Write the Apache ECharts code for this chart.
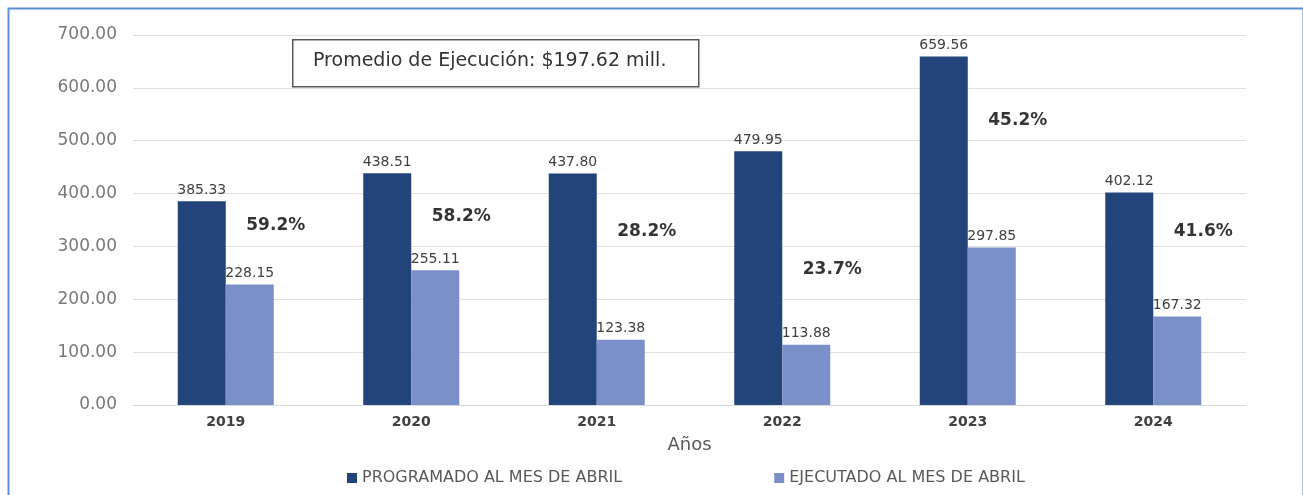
<!DOCTYPE html>
<html>
<head>
<meta charset="utf-8">
<script src="https://cdn.jsdelivr.net/npm/echarts@6/dist/echarts.min.js"></script>
<style>
  html, body { margin: 0; padding: 0; background: #fff; }
  #chart { width: 1303px; height: 495px; }
</style>
</head>
<body>
<div id="chart"></div>
<script>
// datos
const years = ['2019', '2020', '2021', '2022', '2023', '2024']
const programado = [385.33, 438.51, 437.80, 479.95, 659.56, 402.12]
const ejecutado = [228.15, 255.11, 123.38, 113.88, 297.85, 167.32]
const porcentajes = ['59.2%', '58.2%', '28.2%', '23.7%', '45.2%', '41.6%']
// altura (en valores del eje) donde va cada porcentaje
const pctAltura = [339, 356, 329, 257, 539, 329]
const yTicks = [0, 100, 200, 300, 400, 500, 600, 700]
const promedio = 'Promedio de Ejecución: $197.62 mill.'

;(function () {
  let myChart = echarts.init(document.getElementById('chart'))
  const labelFont = '"DejaVu Sans", sans-serif'
  let options = {
    animation: false,
    color: ['#22447a', '#7b8fc9'],
    grid: {
      left: 133,
      right: 57,
      top: 35,
      bottom: 90,
    },
    legend: {
      left: 342,
      top: 465,
      itemWidth: 10,
      itemHeight: 10,
      itemGap: 152,
      icon: 'rect',
      textStyle: {
        color: '#595959',
        fontSize: 16,
        fontFamily: labelFont,
      },
      data: ['PROGRAMADO AL MES DE ABRIL', 'EJECUTADO AL MES DE ABRIL'],
    },
    xAxis: {
      type: 'category',
      data: years,
      name: 'Años',
      nameLocation: 'middle',
      nameGap: 31,
      nameTextStyle: {
        color: '#595959',
        fontSize: 18,
        fontFamily: labelFont,
      },
      axisTick: { show: false },
      axisLine: { lineStyle: { color: '#d9d9d9' } },
      axisLabel: {
        color: '#404040',
        fontSize: 14,
        fontWeight: 'bold',
        fontFamily: labelFont,
        margin: 10,
      },
    },
    yAxis: {
      type: 'value',
      min: yTicks[0],
      max: yTicks[yTicks.length - 1],
      interval: 100,
      axisLine: { show: false },
      axisTick: { show: false },
      axisLabel: {
        color: '#787878',
        fontSize: 17,
        fontFamily: labelFont,
        margin: 16,
        formatter: (v) => v.toFixed(2),
      },
      splitLine: { lineStyle: { color: '#e0e0e0' } },
    },
    series: [
      {
        name: 'PROGRAMADO AL MES DE ABRIL',
        type: 'bar',
        barWidth: 48,
        barGap: '0%',
        data: programado,
        label: {
          show: true,
          position: 'top',
          distance: 4,
          color: '#404040',
          fontSize: 14,
          fontFamily: labelFont,
          formatter: (p) => p.value.toFixed(2),
        },
      },
      {
        name: 'EJECUTADO AL MES DE ABRIL',
        type: 'bar',
        barWidth: 48,
        barGap: '0%',
        data: ejecutado,
        label: {
          show: true,
          position: 'top',
          distance: 4,
          color: '#404040',
          fontSize: 14,
          fontFamily: labelFont,
          formatter: (p) => p.value.toFixed(2),
        },
      },
      {
        // porcentajes de ejecución
        name: 'pct',
        type: 'scatter',
        symbolSize: 0,
        silent: true,
        data: pctAltura.map((v, i) => [years[i], v]),
        label: {
          show: true,
          position: 'inside',
          offset: [50, 0],
          color: '#000',
          fontSize: 17,
          fontWeight: 'bold',
          fontFamily: labelFont,
          formatter: (p) => porcentajes[p.dataIndex],
        },
      },
    ],
    graphic: [
      {
        type: 'rect',
        left: 6,
        top: 6,
        shape: { width: 1295, height: 520 },
        style: { fill: 'none', stroke: '#5b8fd6', lineWidth: 2 },
        z: 100,
      },
      {
        type: 'rect',
        left: 292,
        top: 39,
        shape: { width: 406, height: 47 },
        style: { fill: '#fff', stroke: '#595959', lineWidth: 1.5 },
        z: 50,
      },
      {
        type: 'text',
        left: 313,
        top: 52,
        style: {
          text: promedio,
          fill: '#333',
          font: '19px "DejaVu Sans", sans-serif',
        },
        z: 51,
      },
    ],
  }
  myChart.setOption(options)
  window.addEventListener('resize', () => {
    myChart.resize()
  })
})()
</script>
</body>
</html>
